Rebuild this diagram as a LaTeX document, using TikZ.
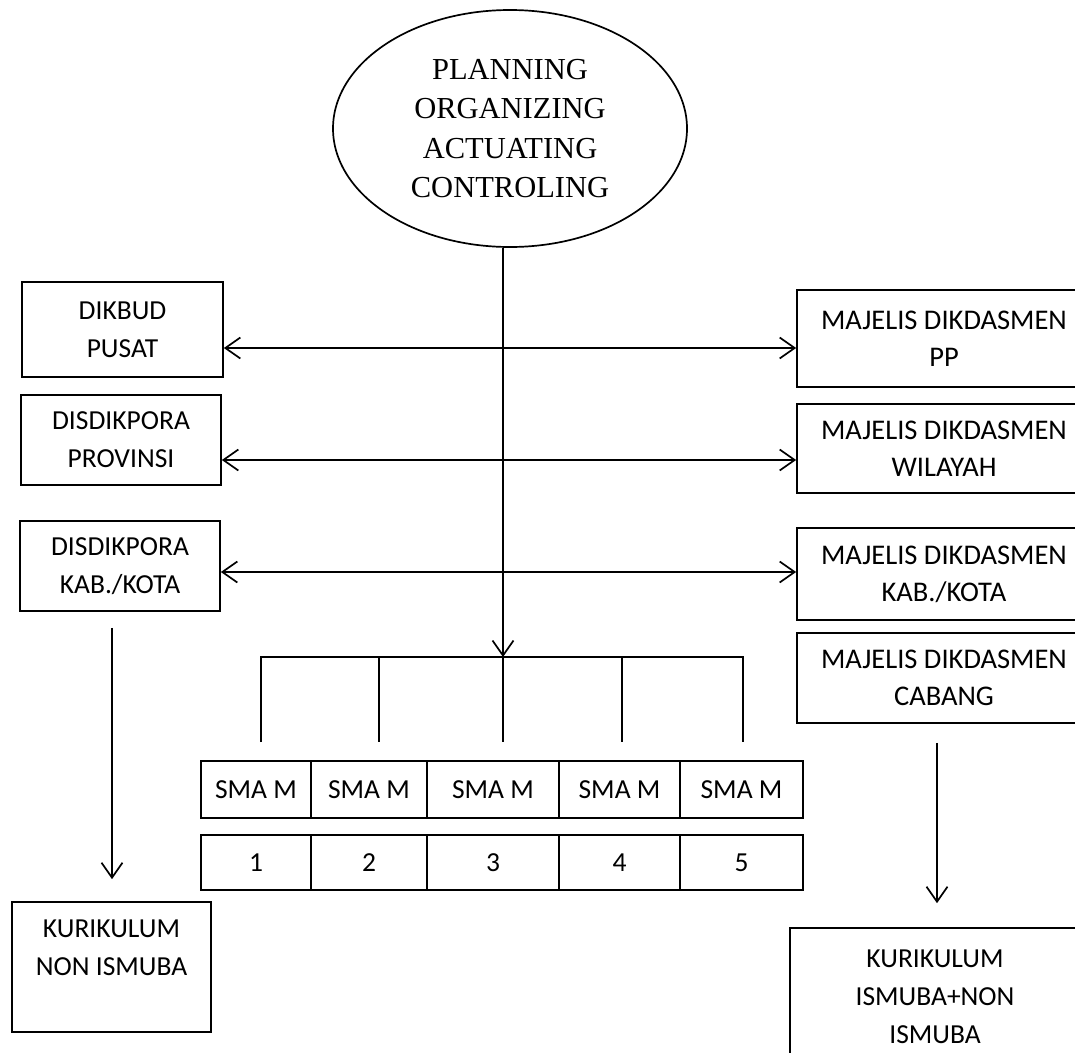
\documentclass[tikz,border=0pt]{standalone}
\usepackage{fontspec}
\setmainfont{Liberation Serif}
\newfontfamily\boxfont{Carlito}
\usetikzlibrary{arrows.meta,shapes.geometric}
\begin{document}
\begin{tikzpicture}[x=1pt,y=-1pt,
  line width=1.7pt,
  box/.style={draw, rectangle, inner sep=0pt, align=center,
    font=\boxfont\fontsize{27.5}{38}\selectfont},
  rbox/.style={box, minimum width=294pt,
    font=\boxfont\fontsize{28.5}{37}\selectfont},
  cell/.style={box, minimum height=57pt},
  ncell/.style={box, minimum height=55pt},
  tip/.style={-{Straight Barb[length=15pt,width=21pt]}},
  dtip/.style={{Straight Barb[length=15pt,width=21pt]}-{Straight Barb[length=15pt,width=21pt]}},
]
\useasboundingbox (0,0) rectangle (1075,1052);
\clip (0,0) rectangle (1075,1052);
\fill[white] (0,0) rectangle (1075,1052);

% top ellipse
\node[draw, ellipse, minimum width=354pt, minimum height=237pt, inner sep=0pt,
  align=center, font=\fontsize{30.5}{39.5}\selectfont] (poac) at (510,128.5)
  {PLANNING\\ORGANIZING\\ACTUATING\\CONTROLING};

% left column
\node[box, minimum width=201pt, minimum height=95pt] (dikbud) at (122.5,329.5) {DIKBUD\\PUSAT};
\node[box, minimum width=200pt, minimum height=90pt] (prov) at (121,440) {DISDIKPORA\\PROVINSI};
\node[box, minimum width=200pt, minimum height=90pt] (kabl) at (120,566) {DISDIKPORA\\KAB./KOTA};

% right column
\node[rbox, minimum height=97pt] (pp) at (944,338.5) {MAJELIS DIKDASMEN\\PP};
\node[rbox, minimum height=89pt] (wil) at (944,448.5) {MAJELIS DIKDASMEN\\WILAYAH};
\node[rbox, minimum height=92pt] (kabr) at (944,574) {MAJELIS DIKDASMEN\\KAB./KOTA};
\node[rbox, minimum height=90pt] (cab) at (944,678) {MAJELIS DIKDASMEN\\CABANG};

% horizontal double arrows
\coordinate (h1) at (0,348);
\coordinate (h2) at (0,460);
\coordinate (h3) at (0,572);
\draw[dtip] (dikbud.east |- h1) -- (pp.west |- h1);
\draw[dtip] (prov.east |- h2) -- (wil.west |- h2);
\draw[dtip] (kabl.east |- h3) -- (kabr.west |- h3);

% central arrow and bracket
\coordinate (cj) at (503,657);
\draw[tip] (poac.south -| cj) -- (cj);
\coordinate (t1) at (261,742);
\coordinate (t2) at (379,742);
\coordinate (t3) at (503,742);
\coordinate (t4) at (622,742);
\coordinate (t5) at (743,742);
\draw (t1) -- (t1 |- cj) -- (t5 |- cj) -- (t5);
\foreach \t in {t2,t3,t4} \draw (\t |- cj) -- (\t);

% school cells
\node[cell, minimum width=110pt] (s1) at (256,789.5) {SMA M};
\node[cell, minimum width=116pt] (s2) at (369,789.5) {SMA M};
\node[cell, minimum width=132pt] (s3) at (493,789.5) {SMA M};
\node[cell, minimum width=121pt] (s4) at (619.5,789.5) {SMA M};
\node[cell, minimum width=123pt] (s5) at (741.5,789.5) {SMA M};
\node[ncell, minimum width=110pt] (n1) at (256,862.5) {1};
\node[ncell, minimum width=116pt] (n2) at (369,862.5) {2};
\node[ncell, minimum width=132pt] (n3) at (493,862.5) {3};
\node[ncell, minimum width=121pt] (n4) at (619.5,862.5) {4};
\node[ncell, minimum width=123pt] (n5) at (741.5,862.5) {5};

% bottom boxes
\node[box, minimum width=199pt, minimum height=130pt] (kurl) at (111.5,967) {KURIKULUM\\NON ISMUBA\\\mbox{}};
\node[box, minimum width=290pt, minimum height=138pt] (kurr) at (935,997) {KURIKULUM\\ISMUBA+NON\\ISMUBA};

% vertical arrows to curricula
\coordinate (lx) at (112,0);
\coordinate (rx) at (937,0);
\draw[tip, shorten <=16pt, shorten >=22pt] (kabl.south -| lx) -- (kurl.north -| lx);
\draw[tip, shorten <=19pt, shorten >=24pt] (cab.south -| rx) -- (kurr.north -| rx);
\end{tikzpicture}
\end{document}
